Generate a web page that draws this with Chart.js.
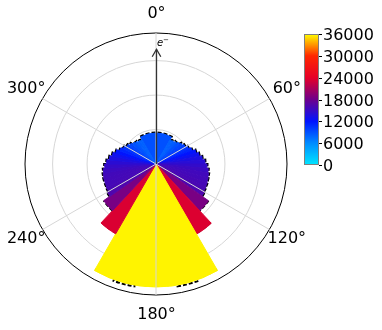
<!DOCTYPE html>
<html><head><meta charset="utf-8">
<script src="https://cdn.jsdelivr.net/npm/chart.js@4/dist/chart.umd.min.js"></script>
<style>html,body{margin:0;padding:0;background:#fff}#wrap{position:relative;width:382px;height:330px}</style>
</head><body><div id="wrap"><canvas id="c" width="382" height="330"></canvas></div>
<script>
// ---- data (angles clockwise from the top, first bin starts at -30°) ----
const binStartDeg = -30;
const binWidths = [60,
  5,5,5,5,5,5,5,5,5,5,5,5,5,5,5,5,5,5,5,
  12, 13, 60, 13, 12,
  5,5,5,5,5,5,5,5,5,5,5,5,5,5,5,5,5,5,5];
const binValues = [8990,
  8120, 8270, 8560, 8990, 9430, 9860, 10440, 11170, 12040, 12760, 13490, 14210, 14790, 15230, 15520, 15660, 15810, 15950, 16240,
  18560, 23500, 35680, 23400, 18500,
  16300, 15900, 15750, 15700, 15600, 15350, 14900, 14300, 13600, 12900, 12100, 11200, 10500, 9900, 9400, 8950, 8600, 8300, 8150];
// dashed step series (drawn beneath the bars)
const dashedWidths = [60,
  5,5,5,5,5,5,5,5,5,5,5,5,5,5,5,5,5,5,5,
  12, 13, 10, 10, 20, 10, 10, 13, 12,
  5,5,5,5,5,5,5,5,5,5,5,5,5,5,5,5,5,5,5];
const dashedValues = [9150,
  8270, 8420, 8710, 9140, 9580, 10010, 10590, 11320, 12190, 12910, 13640, 14360, 14940, 15380, 15670, 15810, 15960, 16100, 16390,
  18560, 23200, 35300, 36050, 35300, 36050, 35300, 23100, 18500,
  16450, 16050, 15900, 15850, 15750, 15500, 15050, 14450, 13750, 13050, 12250, 11350, 10650, 10050, 9550, 9100, 8750, 8450, 8300];
const angleTicks = [0, 60, 120, 180, 240, 300];
const angleLabels = ['0°', '60°', '120°', '180°', '240°', '300°'];
const radialTicks = [0, 10000, 20000, 30000, 38000];
const rMax = 38000;
const colorbarTicks = [0, 6000, 12000, 18000, 24000, 30000, 36000];
const cMax = 36000;

// ---- colormap ----
const stops = [[0,[0,230,255]],[1/6,[0,140,255]],[1/3,[0,20,255]],[0.5,[110,0,140]],[2/3,[230,0,40]],[5/6,[255,40,0]],[1,[255,255,0]]];
function cmap(v){
  let t = Math.max(0, Math.min(1, v / cMax));
  for (let i = 1; i < stops.length; i++) {
    if (t <= stops[i][0]) {
      const [t0,c0] = stops[i-1], [t1,c1] = stops[i];
      const f = (t - t0) / (t1 - t0);
      const c = c0.map((x,k)=>Math.round(x + (c1[k]-x)*f));
      return `rgb(${c[0]},${c[1]},${c[2]})`;
    }
  }
  return 'rgb(255,255,0)';
}
const rad = d => (d - 90) * Math.PI / 180;

const overlay = {
  id: 'overlay',
  beforeDatasetsDraw(chart){
    const s = chart.scales.r, ctx = chart.ctx, cx = s.xCenter, cy = s.yCenter;
    ctx.save();
    ctx.strokeStyle = '#000'; ctx.lineWidth = 2; ctx.setLineDash([4, 2]);
    ctx.beginPath();
    let a = binStartDeg;
    const n = dashedValues.length;
    dashedValues.forEach((v, i) => {
      const r = s.getDistanceFromCenterForValue(v);
      const prev = dashedValues[(i - 1 + n) % n];
      const a0 = rad(a), a1 = rad(a + dashedWidths[i]);
      if (i === 0 || Math.abs(v - prev) > 2000) ctx.moveTo(cx + r*Math.cos(a0), cy + r*Math.sin(a0));
      ctx.arc(cx, cy, r, a0, a1);
      a += dashedWidths[i];
    });
    ctx.stroke(); ctx.restore();
  },
  afterDatasetsDraw(chart){
    const s = chart.scales.r, ctx = chart.ctx, cx = s.xCenter, cy = s.yCenter;
    const R = s.getDistanceFromCenterForValue(rMax);
    ctx.save(); ctx.strokeStyle = '#d6d6d6'; ctx.lineWidth = 1;
    angleTicks.forEach(t => {
      ctx.beginPath(); ctx.moveTo(cx, cy);
      ctx.lineTo(cx + R*Math.cos(rad(t)), cy + R*Math.sin(rad(t))); ctx.stroke();
    });
    ctx.restore();
  },
  afterDraw(chart){
    const s = chart.scales.r, ctx = chart.ctx, cx = s.xCenter, cy = s.yCenter;
    const R = s.getDistanceFromCenterForValue(rMax);
    ctx.save();
    // arrow (e-)
    const tip = cy - s.getDistanceFromCenterForValue(33300);
    ctx.strokeStyle = '#333'; ctx.lineWidth = 1.3;
    ctx.beginPath(); ctx.moveTo(cx+0.5, cy); ctx.lineTo(cx+0.5, tip); ctx.stroke();
    ctx.beginPath(); ctx.moveTo(cx-3.8, tip+7.5); ctx.lineTo(cx+0.5, tip); ctx.lineTo(cx+4.8, tip+7.5); ctx.stroke();
    ctx.fillStyle = '#000';
    ctx.font = 'italic 10px "DejaVu Sans"'; ctx.textAlign = 'left'; ctx.textBaseline = 'alphabetic';
    ctx.fillText('e', cx + 1, tip - 3);
    ctx.font = '7px "DejaVu Sans"';
    ctx.fillText('−', cx + 7, tip - 7.5);
    // angle labels
    ctx.font = '16px "DejaVu Sans"'; ctx.textAlign = 'center'; ctx.textBaseline = 'middle';
    angleTicks.forEach((t, i) => {
      const rr = R + 19.5;
      ctx.fillText(angleLabels[i], cx + 0.5 + rr*Math.cos(rad(t)), cy + rr*Math.sin(rad(t)));
    });
    // colorbar
    const x0 = 304, x1 = 319, yTop = 34, yBot = 165;
    for (let y = yTop; y < yBot; y++) {
      const v = cMax * (yBot - (y + 0.5)) / (yBot - yTop);
      ctx.fillStyle = cmap(v); ctx.fillRect(x0, y, x1 - x0, 1);
    }
    ctx.strokeStyle = '#7f7f7f'; ctx.lineWidth = 1;
    ctx.strokeRect(x0 + 0.5, yTop + 0.5, x1 - x0 - 1, yBot - yTop - 1);
    ctx.strokeStyle = '#000'; ctx.fillStyle = '#000';
    ctx.font = '16px "DejaVu Sans"'; ctx.textAlign = 'left'; ctx.textBaseline = 'middle';
    colorbarTicks.forEach(v => {
      const y = Math.round(yBot - (yBot - yTop) * v / cMax) + 0.5;
      ctx.beginPath(); ctx.moveTo(x1, y); ctx.lineTo(x1 + 3, y); ctx.stroke();
      ctx.fillText(String(v), x1 + 4, y + 1);
    });
    ctx.restore();
  }
};

new Chart(document.getElementById('c'), {
  type: 'polarArea',
  data: {
    labels: binValues.map((_, i) => 'bin ' + i),
    datasets: [{
      data: binValues,
      backgroundColor: c => cmap(c.raw),
      borderColor: c => cmap(c.raw),
      borderWidth: 1,
      angle: c => binWidths[c.dataIndex]
    }]
  },
  options: {
    responsive: false, animation: false, events: [],
    layout: { padding: { left: 25, top: 33, right: 95, bottom: 35 } },
    plugins: { legend: { display: false }, tooltip: { enabled: false } },
    scales: {
      r: {
        min: 0, max: rMax, startAngle: binStartDeg, z: 1,
        afterBuildTicks: sc => { sc.ticks = radialTicks.map(v => ({ value: v })); },
        ticks: { display: false },
        grid: { circular: true, lineWidth: 1, color: c => (c.tick && c.tick.value >= rMax) ? '#000' : '#d6d6d6' },
        angleLines: { display: false },
        pointLabels: { display: false }
      }
    }
  },
  plugins: [overlay]
});
</script></body></html>
